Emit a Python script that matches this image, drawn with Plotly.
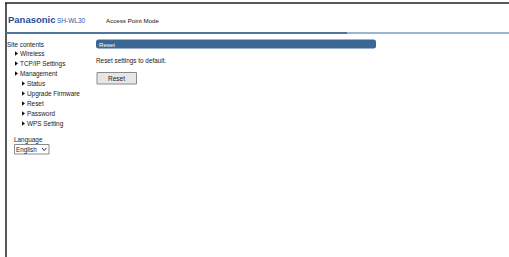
import plotly.graph_objects as go

# ---- content ----
brand = "Panasonic"
model = "SH-WL30"
mode_label = "Access Point Mode"
site_title = "Site contents"
menu_items = ["Wireless", "TCP/IP Settings", "Management", "Status",
              "Upgrade Firmware", "Reset", "Password", "WPS Setting"]
menu_levels = [1, 1, 1, 2, 2, 2, 2, 2]
language_label = "Language"
language_value = "English"
section_title = "Reset"
section_text = "Reset settings to default."
button_label = "Reset"

FONT = "Liberation Sans, Arial, sans-serif"
W, H = 509, 257
PAD = 2  # annotation inner padding compensation

fig = go.Figure()
shapes = []
ann = []

# frame lines
shapes.append(dict(type="line", x0=5, x1=W, y0=3, y1=3, line=dict(color="#222", width=1.5)))
shapes.append(dict(type="line", x0=6, x1=6, y0=3, y1=H, line=dict(color="#222", width=1.5)))
# blue header separator
shapes.append(dict(type="line", x0=6.5, x1=W, y0=33, y1=33, line=dict(color="#7d9cc0", width=1.5)))
shapes.append(dict(type="line", x0=6.5, x1=347, y0=33, y1=33, line=dict(color="#4f74a0", width=2)))

# section header bar (rounded)
x0, x1, y0, y1, r = 96, 376, 39.5, 48.5, 2.5
path = (f"M {x0+r},{y0} L {x1-r},{y0} Q {x1},{y0} {x1},{y0+r} L {x1},{y1-r} Q {x1},{y1} {x1-r},{y1} "
        f"L {x0+r},{y1} Q {x0},{y1} {x0},{y1-r} L {x0},{y0+r} Q {x0},{y0} {x0+r},{y0} Z")
shapes.append(dict(type="path", path=path, fillcolor="#3b6794", line=dict(width=0)))

# button
shapes.append(dict(type="rect", x0=97, x1=136.5, y0=72.5, y1=84, fillcolor="#e6e6e6",
                   line=dict(color="#8a8a8a", width=1)))
# select box
shapes.append(dict(type="rect", x0=14.5, x1=49, y0=144.5, y1=154, fillcolor="#ffffff",
                   line=dict(color="#8a8a8a", width=1)))
shapes.append(dict(type="path", path="M 42,148 L 44.2,150.5 L 46.4,148",
                   line=dict(color="#333", width=1)))

def txt(x, y, s, size=6.4, color="#1a1a1a", bold=False, xanchor="left"):
    if bold:
        s = f"<b>{s}</b>"
    if xanchor == "left":
        x = x - PAD
    ann.append(dict(x=x, y=y, text=s, showarrow=False, xanchor=xanchor, yanchor="middle",
                    xref="x", yref="y", font=dict(family=FONT, size=size, color=color)))

txt(8, 19.5, brand, size=9.5, color="#1c4f9c", bold=True)
txt(57, 20, model, size=6.5, color="#2c5ba6")
txt(106, 20, mode_label, size=6.2, color="#111")

txt(7, 44.5, site_title, size=6.4)
tri_x, tri_y = [], []
for i, (item, lvl) in enumerate(zip(menu_items, menu_levels)):
    y = 53.5 + 10 * i
    tx = 16 if lvl == 1 else 23
    tri_x.append(tx)
    tri_y.append(y)
    txt(tx + 3.5, y, item, size=6.4)

fig.add_trace(go.Scatter(x=tri_x, y=tri_y, mode="markers", hoverinfo="skip",
                         marker=dict(symbol="triangle-right", size=4, color="#111")))

txt(14, 139.5, language_label, size=6.4)
txt(16, 149.5, language_value, size=6.3)

txt(99, 44.3, section_title, size=6.1, color="#ffffff")
txt(96, 61, section_text, size=6.4)
txt(116.8, 78.5, button_label, size=6.5, xanchor="center")

fig.update_layout(
    width=W, height=H, margin=dict(l=0, r=0, t=0, b=0),
    paper_bgcolor="white", plot_bgcolor="white", showlegend=False,
    xaxis=dict(range=[0, W], visible=False, fixedrange=True),
    yaxis=dict(range=[H, 0], visible=False, fixedrange=True),
    shapes=shapes, annotations=ann,
)

fig.write_html("out.html", config={"displayModeBar": False},
               post_script="document.body.style.margin='0';document.body.style.overflow='hidden';")
